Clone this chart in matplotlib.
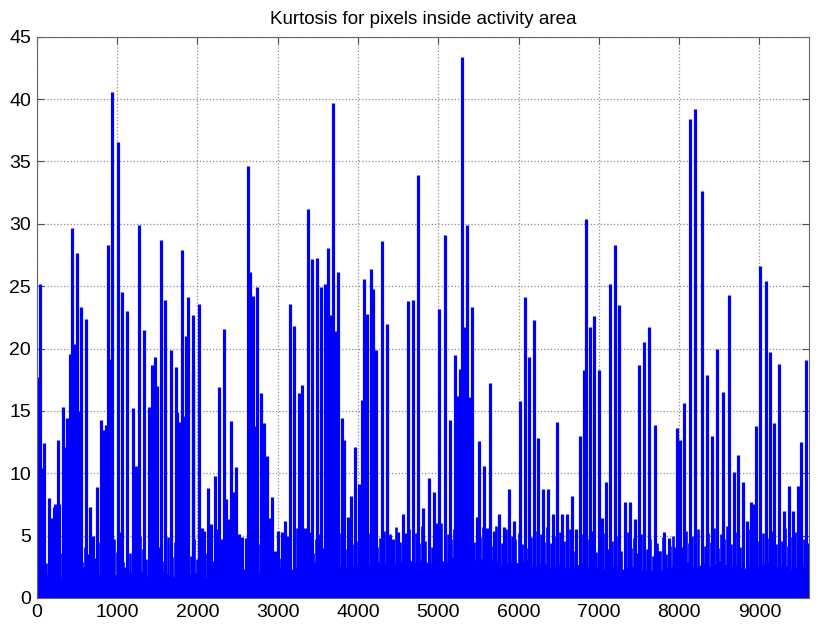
import numpy as np
import matplotlib
matplotlib.use("Agg")
import matplotlib.pyplot as plt

# spike peaks (sample index, kurtosis)
spike_x = [10, 35, 77, 93, 156, 189, 215, 227, 259, 280, 321, 335, 376, 395, 417, 438, 460, 496, 515, 550,
           612, 658, 700, 749, 803, 822, 860, 882, 905, 936, 1006, 1064, 1123, 1193, 1230, 1268, 1330, 1395,
           1434, 1479, 1500, 1546, 1596,
           1675, 1729, 1745, 1775, 1803, 1820, 1861, 1886, 1940, 1952, 2023, 2055, 2085, 2139, 2170, 2222,
           2264, 2290, 2334, 2355, 2390, 2413, 2450, 2480, 2520, 2555, 2600, 2637, 2660, 2691, 2720, 2745,
           2791, 2830, 2873, 2900, 2931, 2970, 3000, 3055, 3097, 3125, 3160, 3206,
           3264, 3309, 3345, 3380, 3430, 3488, 3538, 3588, 3633, 3660, 3688, 3715, 3750, 3803, 3825, 3870,
           3919, 3965, 4007, 4050, 4074, 4119, 4161, 4186, 4227, 4294, 4356, 4400, 4440, 4495, 4559, 4590,
           4629, 4691, 4753,
           4812, 4883, 4945, 4980, 5011, 5082, 5152, 5210, 5240, 5270, 5297, 5335, 5362, 5385, 5424, 5480,
           5509, 5571, 5605, 5646, 5695, 5756, 5825, 5886, 5945, 6020, 6082, 6135, 6190, 6240, 6305, 6365,
           6433, 6476, 6540, 6600, 6667, 6720, 6767, 6810, 6838, 6888, 6938, 6996, 7040, 7083, 7141, 7195,
           7255, 7327, 7389, 7450, 7502, 7564, 7622, 7693, 7745, 7810, 7870, 7935, 7974, 8010, 8061,
           8136, 8202, 8282, 8351, 8415, 8474, 8549, 8615, 8680, 8731, 8790, 8850, 8895, 8930, 8961, 9011,
           9077, 9135, 9180, 9238, 9305, 9367, 9420, 9475, 9521, 9577]
spike_y = [17.7, 25.2, 10.4, 12.4, 8.0, 6.4, 7.3, 7.5, 12.7, 7.5, 15.3, 12.1, 14.4, 13.3, 19.6, 29.7, 20.4, 27.7, 15.0, 23.3,
           22.4, 7.3, 5.0, 8.9, 14.3, 13.5, 13.9, 28.3, 19.2, 40.6, 36.6, 24.5, 23.0, 15.2, 10.6, 29.9, 21.5, 15.3,
           18.7, 19.3, 17.0, 28.7, 23.9,
           19.9, 18.5, 14.9, 14.1, 27.9, 14.6, 21.0, 24.1, 18.3, 22.7, 23.6, 5.6, 5.4, 8.8, 5.9, 9.8,
           16.9, 4.7, 21.6, 7.9, 6.3, 14.2, 8.5, 10.5, 5.1, 4.9, 4.8, 34.6, 26.1, 24.2, 13.8, 24.9,
           16.4, 14.0, 11.4, 6.4, 8.1, 3.8, 5.4, 5.3, 6.2, 5.0, 23.6, 21.8,
           16.4, 17.1, 5.6, 31.2, 27.2, 27.3, 24.9, 25.2, 28.1, 22.7, 39.7, 21.4, 26.1, 14.4, 12.7, 6.5,
           8.2, 12.1, 9.1, 15.9, 25.6, 22.8, 26.4, 24.8, 19.9, 28.6, 22.0, 5.0, 4.7, 5.3, 6.7, 5.2,
           23.8, 23.9, 33.9,
           7.2, 9.6, 8.5, 6.0, 23.2, 29.1, 14.3, 19.5, 16.2, 18.4, 43.4, 21.7, 29.9, 16.1, 23.3, 6.5,
           12.6, 10.6, 5.6, 17.2, 5.4, 6.7, 5.7, 8.7, 6.2, 15.8, 24.1, 19.3, 22.3, 12.8, 8.7, 8.7,
           6.7, 14.1, 6.7, 6.7, 8.2, 5.5, 13.0, 18.3, 30.4, 21.7, 22.6, 18.3, 6.4, 9.3, 25.2, 28.3,
           23.5, 7.7, 7.7, 6.3, 18.7, 20.5, 21.7, 13.9, 3.8, 5.3, 4.8, 4.1, 13.6, 12.7, 15.6,
           38.4, 39.2, 32.6, 17.9, 13.0, 20.0, 16.5, 24.3, 10.1, 11.5, 9.3, 6.2, 7.7, 7.5, 13.8, 26.6,
           25.4, 19.7, 14.0, 18.8, 7.0, 9.0, 7.0, 9.0, 12.5, 19.1]

# small activity between the big spikes, every 40 samples
minor_x = list(range(0, 9640, 40))
minor_y = [4.2, 3.1, 5.0, 2.8, 3.9, 4.6, 3.0, 5.2, 3.6, 4.4,
           3.3, 4.9, 3.8, 5.4, 2.9, 4.1, 3.5, 4.8, 3.2, 4.5,
           5.1, 3.4, 4.3, 3.0, 4.7, 3.7, 5.3, 2.9, 4.0, 3.6,
           4.6, 3.2, 5.0, 3.9, 3.1, 4.4, 5.2, 3.5, 4.1, 3.0,
           3.8, 4.9, 3.3, 4.5, 2.9, 5.1, 3.6, 4.2, 3.4, 4.7,
           3.1, 5.3, 4.2, 3.6, 4.8, 3.0, 5.5, 4.4, 3.7, 4.9,
           5.0, 3.9, 4.5, 3.3, 4.8, 4.1, 3.5, 5.2, 3.8, 4.3,
           3.4, 4.6, 3.0, 4.2, 3.7, 4.9, 3.2, 4.4, 3.9, 5.1,
           4.4, 5.6, 3.8, 4.9, 4.2, 5.3, 3.6, 4.7, 5.1, 4.0,
           5.4, 4.1, 4.8, 3.7, 5.2, 4.5, 3.9, 5.0, 4.3, 5.6,
           4.6, 5.5, 4.0, 5.2, 4.4, 5.9, 4.1, 4.8, 5.4, 4.3,
           5.1, 4.2, 5.7, 4.5, 5.0, 4.0, 5.5, 4.7, 5.2, 4.4,
           5.8, 4.6, 5.3, 4.1, 5.6, 4.9, 6.0, 4.4, 5.1, 4.7,
           5.5, 4.3, 5.9, 4.8, 5.2, 6.2, 4.5, 5.4, 4.9, 5.7,
           4.6, 5.3, 4.2, 5.8, 4.9, 4.4, 5.5, 4.1, 5.0, 4.7,
           5.2, 4.3, 5.6, 4.0, 4.9, 5.4, 4.2, 5.1, 4.5, 5.7,
           4.4, 5.0, 3.9, 5.3, 4.6, 4.1, 5.5, 3.8, 4.8, 4.3,
           5.1, 4.0, 4.7, 5.4, 3.7, 4.9, 4.3, 5.2, 3.9, 4.6,
           4.2, 5.0, 3.8, 4.6, 5.3, 4.0, 4.8, 3.6, 5.1, 4.4,
           3.9, 4.7, 3.4, 4.4, 3.8, 4.9, 3.5, 4.2, 5.0, 4.0,
           4.8, 4.1, 5.4, 4.4, 5.0, 3.9, 5.5, 4.6, 4.2, 5.2,
           4.5, 5.6, 4.0, 5.1, 4.7, 5.8, 4.3, 4.9, 5.3, 4.1,
           5.0, 4.4, 5.5, 4.1, 5.7, 4.6, 5.2, 4.0, 4.8, 5.4,
           4.3, 5.1, 4.6, 5.6, 4.2, 4.9, 5.3, 4.5, 5.0, 4.7,
           4.4]

# top of the solid low band, every 100 samples
band_x = list(range(0, 9700, 100))
band_top = [2.4, 1.8, 2.1, 1.6, 2.3, 1.9, 2.6, 1.7, 2.0, 2.2,
            1.8, 2.5, 1.9, 2.2, 1.6, 2.4, 2.0, 1.7, 2.3, 1.9,
            2.1, 1.6, 2.2, 1.8, 1.5, 2.0, 2.4, 1.7, 2.2, 1.9,
            2.3, 2.7, 2.2, 2.9, 2.5, 3.1, 2.4, 2.8, 2.6, 2.3,
            2.9, 2.5, 3.2, 2.7, 3.0, 2.6, 3.3, 2.8, 3.1, 2.7,
            3.2, 2.8, 3.4, 3.0, 2.7, 3.3, 2.9, 3.1, 2.6, 3.0,
            2.8, 3.1, 2.5, 2.9, 2.4, 2.7, 2.3, 2.6, 2.8, 2.4,
            2.5, 2.2, 2.7, 2.3, 2.6, 2.1, 2.4, 2.0, 2.3, 2.5,
            2.6, 2.9, 2.4, 2.8, 2.5, 3.0, 2.6, 2.7, 2.3, 2.8,
            2.5, 2.9, 2.4, 2.7, 2.3, 2.6, 2.8]

plt.rcParams["font.family"] = ["Liberation Sans", "DejaVu Sans"]

fig = plt.figure(figsize=(8.18, 6.34), dpi=100)
ax = fig.add_axes([0.0449, 0.0568, 0.9444, 0.8852])

ax.fill_between(band_x, 0, band_top, color="#0000ff", lw=0)
ax.vlines(minor_x, 0, minor_y, color="#0000ff", lw=1.9)
ax.vlines(spike_x, 0, spike_y, color="#0000ff", lw=2.3)

ax.set_xlim(0, 9620)
ax.set_ylim(0, 45)
ax.set_xticks(range(0, 10000, 1000))
ax.set_yticks(range(0, 50, 5))
ax.grid(True, linestyle=":", color="0.55", lw=0.9)
ax.set_axisbelow(True)
ax.tick_params(direction="in", top=True, right=True, length=5, labelsize=14, pad=4, color="0.3")
for s in ax.spines.values():
    s.set_color("0.4")
ax.set_title("Kurtosis for pixels inside activity area", fontsize=13.5, pad=9)

fig.savefig("out.png", dpi=100)
